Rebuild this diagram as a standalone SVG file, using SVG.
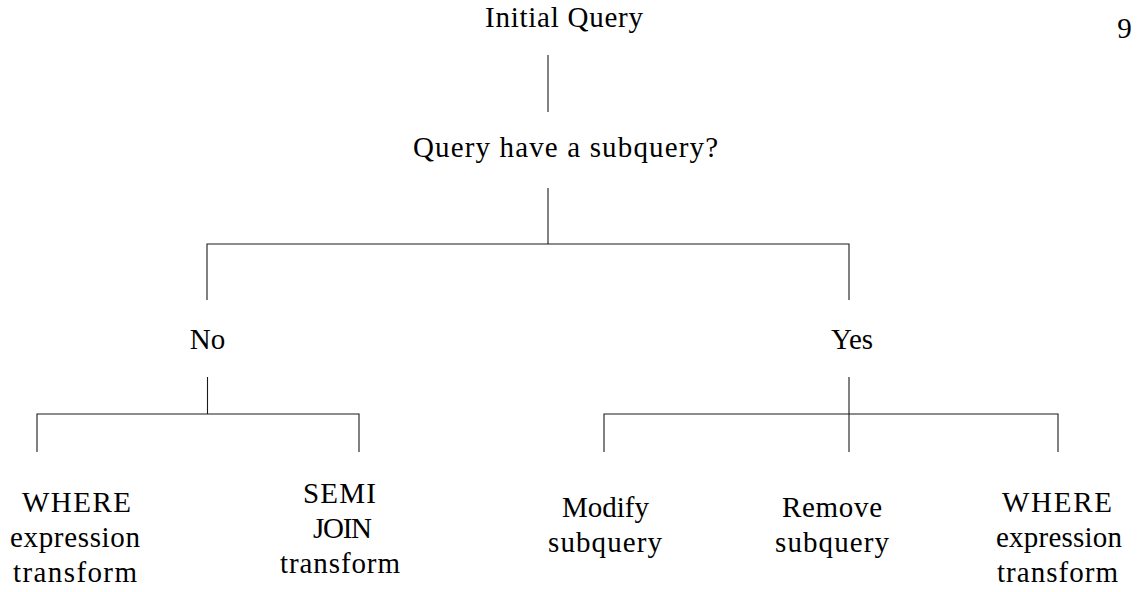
<svg xmlns="http://www.w3.org/2000/svg" width="1139" height="592" viewBox="0 0 1139 592" font-family="'Liberation Serif', 'DejaVu Serif', 'Times New Roman', serif">
  <style>
    .t { font-family: 'Liberation Serif', 'DejaVu Serif', 'Times New Roman', serif; font-size: 29px; fill: #000; text-anchor: middle; }
    .edge { stroke: #1a1a1a; stroke-width: 1.1; fill: none; }
  </style>
  <rect width="1139" height="592" fill="#fff"/>
  <g id="connectors">
    <line class="edge" x1="548" y1="55" x2="548" y2="112"/>
    <line class="edge" x1="548" y1="188" x2="548" y2="244"/>
    <path class="edge" d="M207 300 V244 H849 V300"/>
    <line class="edge" x1="207.5" y1="377" x2="207.5" y2="414"/>
    <path class="edge" d="M37 452 V414 H359 V452"/>
    <line class="edge" x1="849" y1="377" x2="849" y2="452"/>
    <path class="edge" d="M604 452 V414 H1058 V452"/>
  </g>
  <g id="page-number"><text class="t" x="1124.5" y="38">9</text></g>
  <g id="root"><text class="t" x="564" y="27" textLength="158">Initial Query</text></g>
  <g id="question"><text class="t" x="565.5" y="157" textLength="305">Query have a subquery?</text></g>
  <g id="no"><text class="t" x="207.5" y="349">No</text></g>
  <g id="yes"><text class="t" x="852" y="349">Yes</text></g>
  <g id="where-left">
    <text class="t" x="76.5" y="512" textLength="109">WHERE</text>
    <text class="t" x="75" y="547" textLength="130">expression</text>
    <text class="t" x="75" y="582" textLength="124">transform</text>
  </g>
  <g id="semi-join">
    <text class="t" x="339.5" y="503" textLength="73">SEMI</text>
    <text class="t" x="342.5" y="538" textLength="59">JOIN</text>
    <text class="t" x="340" y="573" textLength="120">transform</text>
  </g>
  <g id="modify">
    <text class="t" x="605.5" y="517" textLength="87">Modify</text>
    <text class="t" x="605" y="552" textLength="114">subquery</text>
  </g>
  <g id="remove">
    <text class="t" x="832" y="517" textLength="100">Remove</text>
    <text class="t" x="832" y="552" textLength="114">subquery</text>
  </g>
  <g id="where-right">
    <text class="t" x="1057" y="512" textLength="110">WHERE</text>
    <text class="t" x="1059" y="547" textLength="126">expression</text>
    <text class="t" x="1057.5" y="582" textLength="121">transform</text>
  </g>
</svg>
